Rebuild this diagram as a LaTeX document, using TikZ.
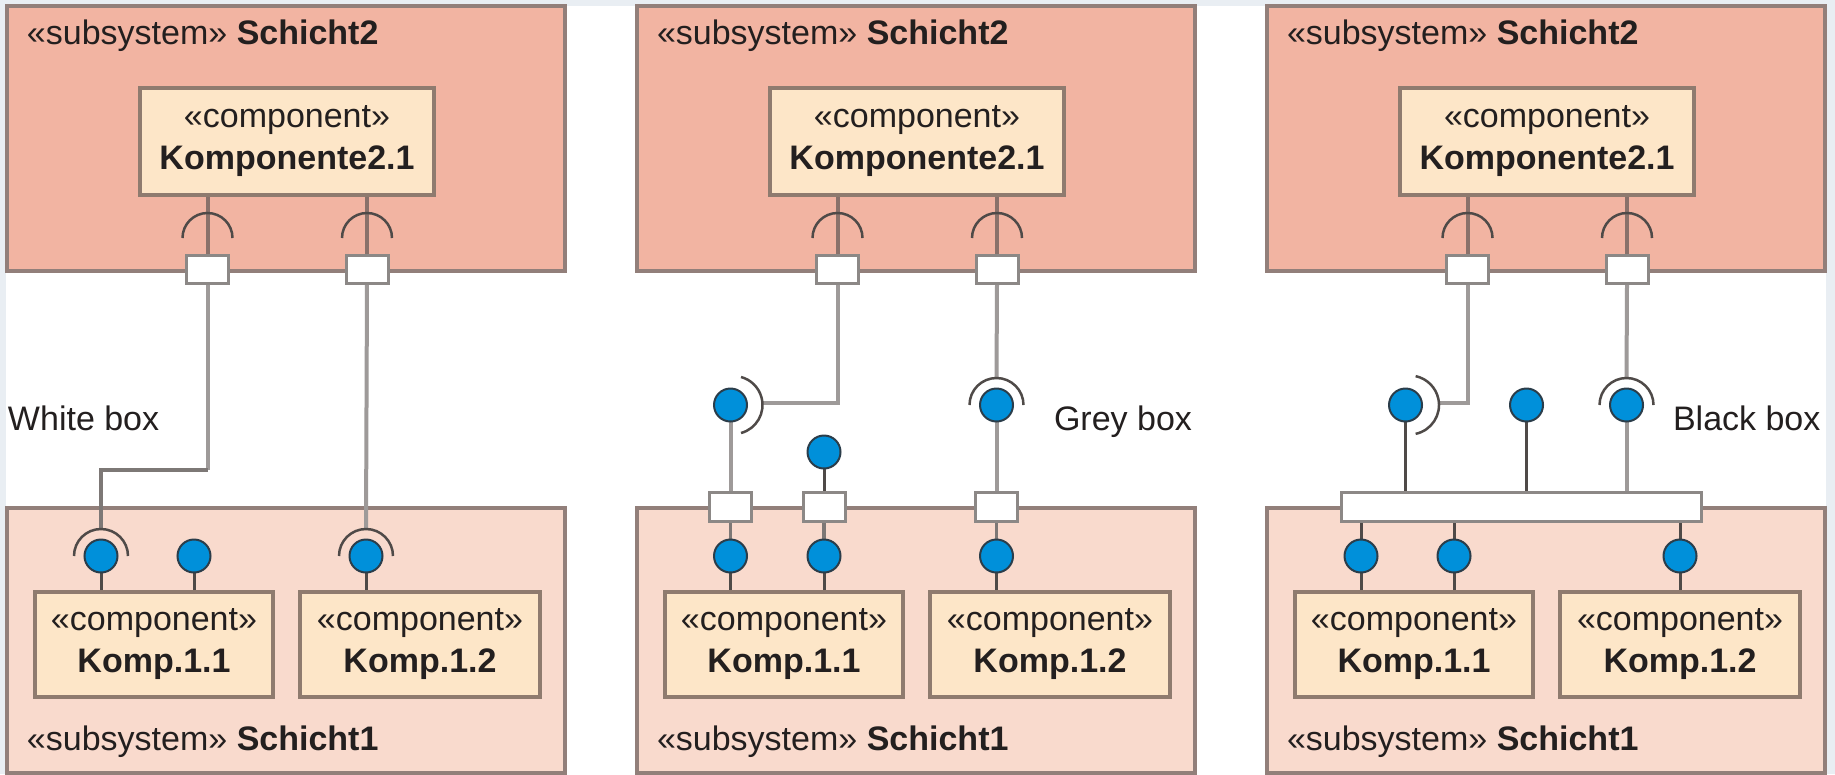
\documentclass[tikz,border=0pt]{standalone}
\usepackage{fontspec}
\setmainfont{Liberation Sans}
\usetikzlibrary{calc}
\pgfdeclarelayer{bg}
\pgfdeclarelayer{lines}
\pgfsetlayers{bg,lines,main}

\definecolor{canvas}{HTML}{E9EEF3}
\definecolor{upfill}{HTML}{F2B4A2}
\definecolor{lowfill}{HTML}{F9DACD}
\definecolor{compfill}{HTML}{FDE6C8}
\definecolor{boxline}{HTML}{927F7A}
\definecolor{compedge}{HTML}{8F7B6F}
\definecolor{ballblue}{HTML}{0090DA}
\definecolor{balledge}{HTML}{2B3D4A}
\definecolor{portedge}{HTML}{8C8886}
\definecolor{lightcon}{HTML}{9E9A99}
\definecolor{midcon}{HTML}{7D7876}
\definecolor{darkcon}{HTML}{4F4A48}
\definecolor{reqcol}{HTML}{8A716A}
\definecolor{inkc}{HTML}{231F1F}

\tikzset{
  every node/.style={inner sep=0pt, outer sep=0pt, text=inkc},
  txt/.style={font=\fontsize{34}{42}\selectfont},
  layerbox/.style={draw=boxline, line width=4pt, rectangle, minimum width=558pt, minimum height=265pt},
  upperbox/.style={layerbox, fill=upfill},
  lowerbox/.style={layerbox, fill=lowfill},
  compbox/.style={draw=compedge, fill=compfill, line width=4pt, rectangle, align=center, txt},
  portbox/.style={draw=portedge, fill=white, line width=3pt, rectangle, minimum width=42pt, minimum height=28pt},
  ballnode/.style={circle, draw=balledge, fill=ballblue, line width=2pt, minimum size=33pt},
  lightline/.style={draw=lightcon, line width=4pt},
  midline/.style={draw=midcon, line width=3.5pt},
  darkline/.style={draw=darkcon, line width=3pt},
  reqline/.style={draw=reqcol, line width=4pt},
  socket/.style={draw=darkcon, line width=2.5pt},
}

\begin{document}
\begin{tikzpicture}[x=1pt,y=1pt]
\useasboundingbox (0,0) rectangle (1835,-774);
\begin{pgfonlayer}{bg}
  \fill[canvas] (0,0) rectangle (1835,-774);
  \fill[white] (6,-6) rectangle (1826,-774);
\end{pgfonlayer}

% ---------- common parts of the three panels ----------
\foreach \p/\dx in {a/0,b/630,c/1260} {
  \begin{pgfonlayer}{bg}
    \node[upperbox] (T\p) at (286+\dx,-138.5) {};
    \node[lowerbox] (L\p) at (286+\dx,-640) {};
  \end{pgfonlayer}
  \node[txt, anchor=base west] (tt\p) at (27+\dx,-44) {«subsystem» \textbf{Schicht2}};
  \node[txt, anchor=base west] (tb\p) at (27+\dx,-750) {«subsystem» \textbf{Schicht1}};
  \node[compbox, minimum width=294pt, minimum height=107pt] (C\p) at (287+\dx,-141.5)
      {«component»\\\textbf{Komponente2.1}};
  \node[compbox, minimum width=238pt, minimum height=105pt] (K\p1) at (154+\dx,-644)
      {«component»\\\textbf{Komp.1.1}};
  \node[compbox, minimum width=240pt, minimum height=105pt] (K\p2) at (420+\dx,-644)
      {«component»\\\textbf{Komp.1.2}};
  \node[portbox] (P\p1) at (207.5+\dx,-269.5) {};
  \node[portbox] (P\p2) at (367+\dx,-269.5) {};
  \coordinate (r\p1) at (207.5+\dx,-238);
  \coordinate (r\p2) at (367+\dx,-238);
  \draw[socket] ([xshift=25pt]r\p1) arc[start angle=0,end angle=180,radius=25pt];
  \draw[socket] ([xshift=25pt]r\p2) arc[start angle=0,end angle=180,radius=25pt];
  \begin{pgfonlayer}{lines}
    \draw[reqline] (C\p.south -| P\p1) -- (P\p1.north);
    \draw[reqline] (C\p.south -| P\p2) -- (P\p2.north);
  \end{pgfonlayer}
}

% ---------- labels ----------
\node[txt, anchor=base west] (lw) at (8,-430) {White box};
\node[txt, anchor=base west] (lg) at (1054,-430) {Grey box};
\node[txt, anchor=base west] (lk) at (1673,-430) {Black box};

% ---------- panel 1: white box ----------
\node[ballnode] (a1) at (101,-556) {};
\node[ballnode] (a2) at (194,-556) {};
\node[ballnode] (a3) at (366,-556) {};
\draw[socket] ([xshift=27pt]a1.center) arc[start angle=0,end angle=180,radius=27pt];
\draw[socket] ([xshift=27pt]a3.center) arc[start angle=0,end angle=180,radius=27pt];
\coordinate (a1s) at ($(a1.center)+(0,27)$);
\coordinate (a3s) at ($(a3.center)+(0,27)$);
\coordinate (wbend) at (207.5,-470);
\begin{pgfonlayer}{lines}
  \draw[lightline] (Pa1.south) -- (wbend);
  \draw[midline] (wbend) -| (a1s);
  \draw[lightline] (Pa2.south) -- (a3s);
  \draw[darkline] (a1.south) -- (a1.south |- Ka1.north);
  \draw[darkline] (a2.south) -- (a2.south |- Ka1.north);
  \draw[darkline] (a3.south) -- (a3.south |- Ka2.north);
\end{pgfonlayer}

% ---------- panel 2: grey box ----------
\node[ballnode] (g1) at (730.5,-405) {};
\node[ballnode] (g2) at (824,-452) {};
\node[ballnode] (g3) at (996.5,-405) {};
\node[portbox, minimum height=29pt] (Q1) at (730.5,-507) {};
\node[portbox, minimum height=29pt] (Q2) at (824,-507) {};
\node[portbox, minimum height=29pt] (Q3) at (996.5,-507) {};
\node[ballnode] (h1) at (730.5,-556) {};
\node[ballnode] (h2) at (824,-556) {};
\node[ballnode] (h3) at (996.5,-556) {};
\draw[socket] ($(g1.center)+(3,0)+(-75:29)$) arc[start angle=-75,end angle=75,radius=29pt];
\draw[socket] ([xshift=27pt]g3.center) arc[start angle=0,end angle=180,radius=27pt];
\coordinate (g1s) at ($(g1.center)+(32,2)$);
\coordinate (g3s) at ($(g3.center)+(0,27)$);
\begin{pgfonlayer}{lines}
  \draw[lightline] (Pb1.south) |- (g1s);
  \draw[lightline] (Pb2.south) -- (g3s);
  \draw[lightline] (g1.south) -- (Q1.north);
  \draw[darkline] (g2.south) -- (Q2.north);
  \draw[lightline] (g3.south) -- (Q3.north);
  \draw[midline] (Q1.south) -- (h1.north);
  \draw[midline] (Q2.south) -- (h2.north);
  \draw[midline] (Q3.south) -- (h3.north);
  \draw[darkline] (h1.south) -- (h1.south |- Kb1.north);
  \draw[darkline] (h2.south) -- (h2.south |- Kb1.north);
  \draw[darkline] (h3.south) -- (h3.south |- Kb2.north);
\end{pgfonlayer}

% ---------- panel 3: black box ----------
\node[ballnode] (k1) at (1405.5,-405) {};
\node[ballnode] (k2) at (1526.5,-405) {};
\node[ballnode] (k3) at (1626.5,-405) {};
\node[portbox, minimum width=360pt, minimum height=29pt] (bar) at (1521,-506.5) {};
\node[ballnode] (m1) at (1361,-556) {};
\node[ballnode] (m2) at (1454,-556) {};
\node[ballnode] (m3) at (1680,-556) {};
\draw[socket] ($(k1.center)+(4,0)+(-78:29.5)$) arc[start angle=-78,end angle=78,radius=29.5pt];
\draw[socket] ([xshift=27pt]k3.center) arc[start angle=0,end angle=180,radius=27pt];
\coordinate (k1s) at ($(k1.center)+(33.5,2)$);
\coordinate (k3s) at ($(k3.center)+(0,27)$);
\begin{pgfonlayer}{lines}
  \draw[lightline] (Pc1.south) |- (k1s);
  \draw[lightline] (Pc2.south) -- (k3s);
  \draw[darkline] (k1.south) -- (k1.south |- bar.north);
  \draw[darkline] (k2.south) -- (k2.south |- bar.north);
  \draw[lightline] (k3.south) -- (k3.south |- bar.north);
  \draw[darkline] (m1.north |- bar.south) -- (m1.north);
  \draw[darkline] (m2.north |- bar.south) -- (m2.north);
  \draw[darkline] (m3.north |- bar.south) -- (m3.north);
  \draw[darkline] (m1.south) -- (m1.south |- Kc1.north);
  \draw[darkline] (m2.south) -- (m2.south |- Kc1.north);
  \draw[darkline] (m3.south) -- (m3.south |- Kc2.north);
\end{pgfonlayer}
\end{tikzpicture}
\end{document}
